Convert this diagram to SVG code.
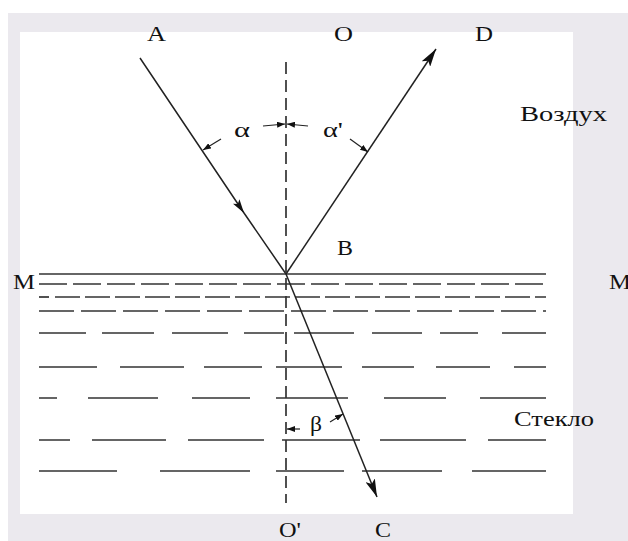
<svg xmlns="http://www.w3.org/2000/svg" width="628" height="541" viewBox="0 0 628 541">
<style>
.lbl{font-family:"Liberation Serif","Times New Roman",serif;font-size:21px;fill:#111}
.ln{stroke:#333;stroke-width:1.7;fill:none}
.ray{stroke:#222;stroke-width:1.5;fill:none}
.ang{stroke:#222;stroke-width:1.2;fill:none}
</style>
<defs>
<marker id="big" viewBox="0 0 18 10" refX="18" refY="5" markerWidth="18" markerHeight="10" markerUnits="userSpaceOnUse" orient="auto">
<path d="M0,0 L18,5 L0,10 L4,5 Z" fill="#111"/>
</marker>
<marker id="mid" viewBox="0 0 14 8" refX="14" refY="4" markerWidth="14" markerHeight="8" markerUnits="userSpaceOnUse" orient="auto">
<path d="M0,0 L14,4 L0,8 L3,4 Z" fill="#111"/>
</marker>
<marker id="sm" viewBox="0 0 8 6" refX="8" refY="3" markerWidth="8" markerHeight="6" markerUnits="userSpaceOnUse" orient="auto">
<path d="M0,0 L8,3 L0,6 Z" fill="#111"/>
</marker>
</defs>
<rect x="0" y="0" width="628" height="541" fill="#ffffff"/>
<rect x="8" y="13" width="620" height="528" fill="#ebe9ee"/>
<rect x="20" y="32" width="553" height="482" fill="#ffffff"/>

<g id="glass-lines">
<line class="ln" x1="39" y1="274" x2="546" y2="274" stroke-width="2"/>
<line class="ln" x1="39" y1="284" x2="546" y2="284" stroke-dasharray="28 6"/>
<path class="ln" d="M39 297H49"/>
<line class="ln" x1="55" y1="297" x2="546" y2="297" stroke-dasharray="25 5"/>
<line class="ln" x1="39" y1="311" x2="546" y2="311" stroke-dasharray="35 7"/>
<path class="ln" d="M39 333H86M102 333H154M172 333H228M244 333H284M294 333H354M372 333H422M440 333H478M502 333H546"/>
<path class="ln" d="M39 367H97M120 367H184M204 367H262M276 367H342M362 367H414M436 367H490M514 367H546"/>
<path class="ln" d="M39 398H57M88 398H158M192 398H250M276 398H348M384 398H446M480 398H546"/>
<path class="ln" d="M39 440H70M92 440H166M188 440H264M282 440H360M380 440H466M488 440H546"/>
<path class="ln" d="M39 471H117M160 471H250M276 471H344M362 471H442M472 471H546"/>
</g>

<g id="connectors">
<line id="normal" class="ln" x1="286" y1="62" x2="286" y2="503" stroke-dasharray="12 6"/>
<path id="ray-AB" class="ray" d="M140 58 L244 213 L286 274" marker-mid="url(#mid)"/>
<line id="ray-BD" class="ray" x1="286" y1="274" x2="436" y2="49" marker-end="url(#big)"/>
<line id="ray-BC" class="ray" x1="286" y1="274" x2="377" y2="497" marker-end="url(#big)"/>
<line class="ang" x1="263" y1="126" x2="285" y2="124" marker-end="url(#sm)"/>
<line class="ang" x1="308" y1="126" x2="287" y2="124" marker-end="url(#sm)"/>
<line class="ang" x1="221" y1="139" x2="203" y2="150" marker-end="url(#sm)"/>
<line class="ang" x1="350" y1="139" x2="368" y2="152" marker-end="url(#sm)"/>
<line class="ang" x1="300" y1="429" x2="287" y2="429" marker-end="url(#sm)"/>
<line class="ang" x1="330" y1="422" x2="343" y2="414" marker-end="url(#sm)"/>
</g>

<g id="labels">
<text class="lbl" x="147" y="41" textLength="19" lengthAdjust="spacingAndGlyphs">A</text>
<text class="lbl" x="334" y="41" textLength="19" lengthAdjust="spacingAndGlyphs">O</text>
<text class="lbl" x="475" y="41" textLength="18" lengthAdjust="spacingAndGlyphs">D</text>
<text class="lbl" x="520" y="121" textLength="87" lengthAdjust="spacingAndGlyphs">Воздух</text>
<text class="lbl" x="337" y="255" textLength="16" lengthAdjust="spacingAndGlyphs">B</text>
<text class="lbl" x="13" y="289" textLength="22" lengthAdjust="spacingAndGlyphs">M</text>
<text class="lbl" x="609" y="289" textLength="22" lengthAdjust="spacingAndGlyphs">M</text>
<text class="lbl" x="514" y="426" textLength="80" lengthAdjust="spacingAndGlyphs">Стекло</text>
<text class="lbl" x="279" y="537" textLength="22" lengthAdjust="spacingAndGlyphs">O'</text>
<text class="lbl" x="375" y="537" textLength="16" lengthAdjust="spacingAndGlyphs">C</text>
<text class="lbl" x="234" y="137" textLength="16" lengthAdjust="spacingAndGlyphs">α</text>
<text class="lbl" x="323" y="137" textLength="20" lengthAdjust="spacingAndGlyphs">α'</text>
<text class="lbl" x="310" y="431" textLength="12" lengthAdjust="spacingAndGlyphs">β</text>
</g>
</svg>
